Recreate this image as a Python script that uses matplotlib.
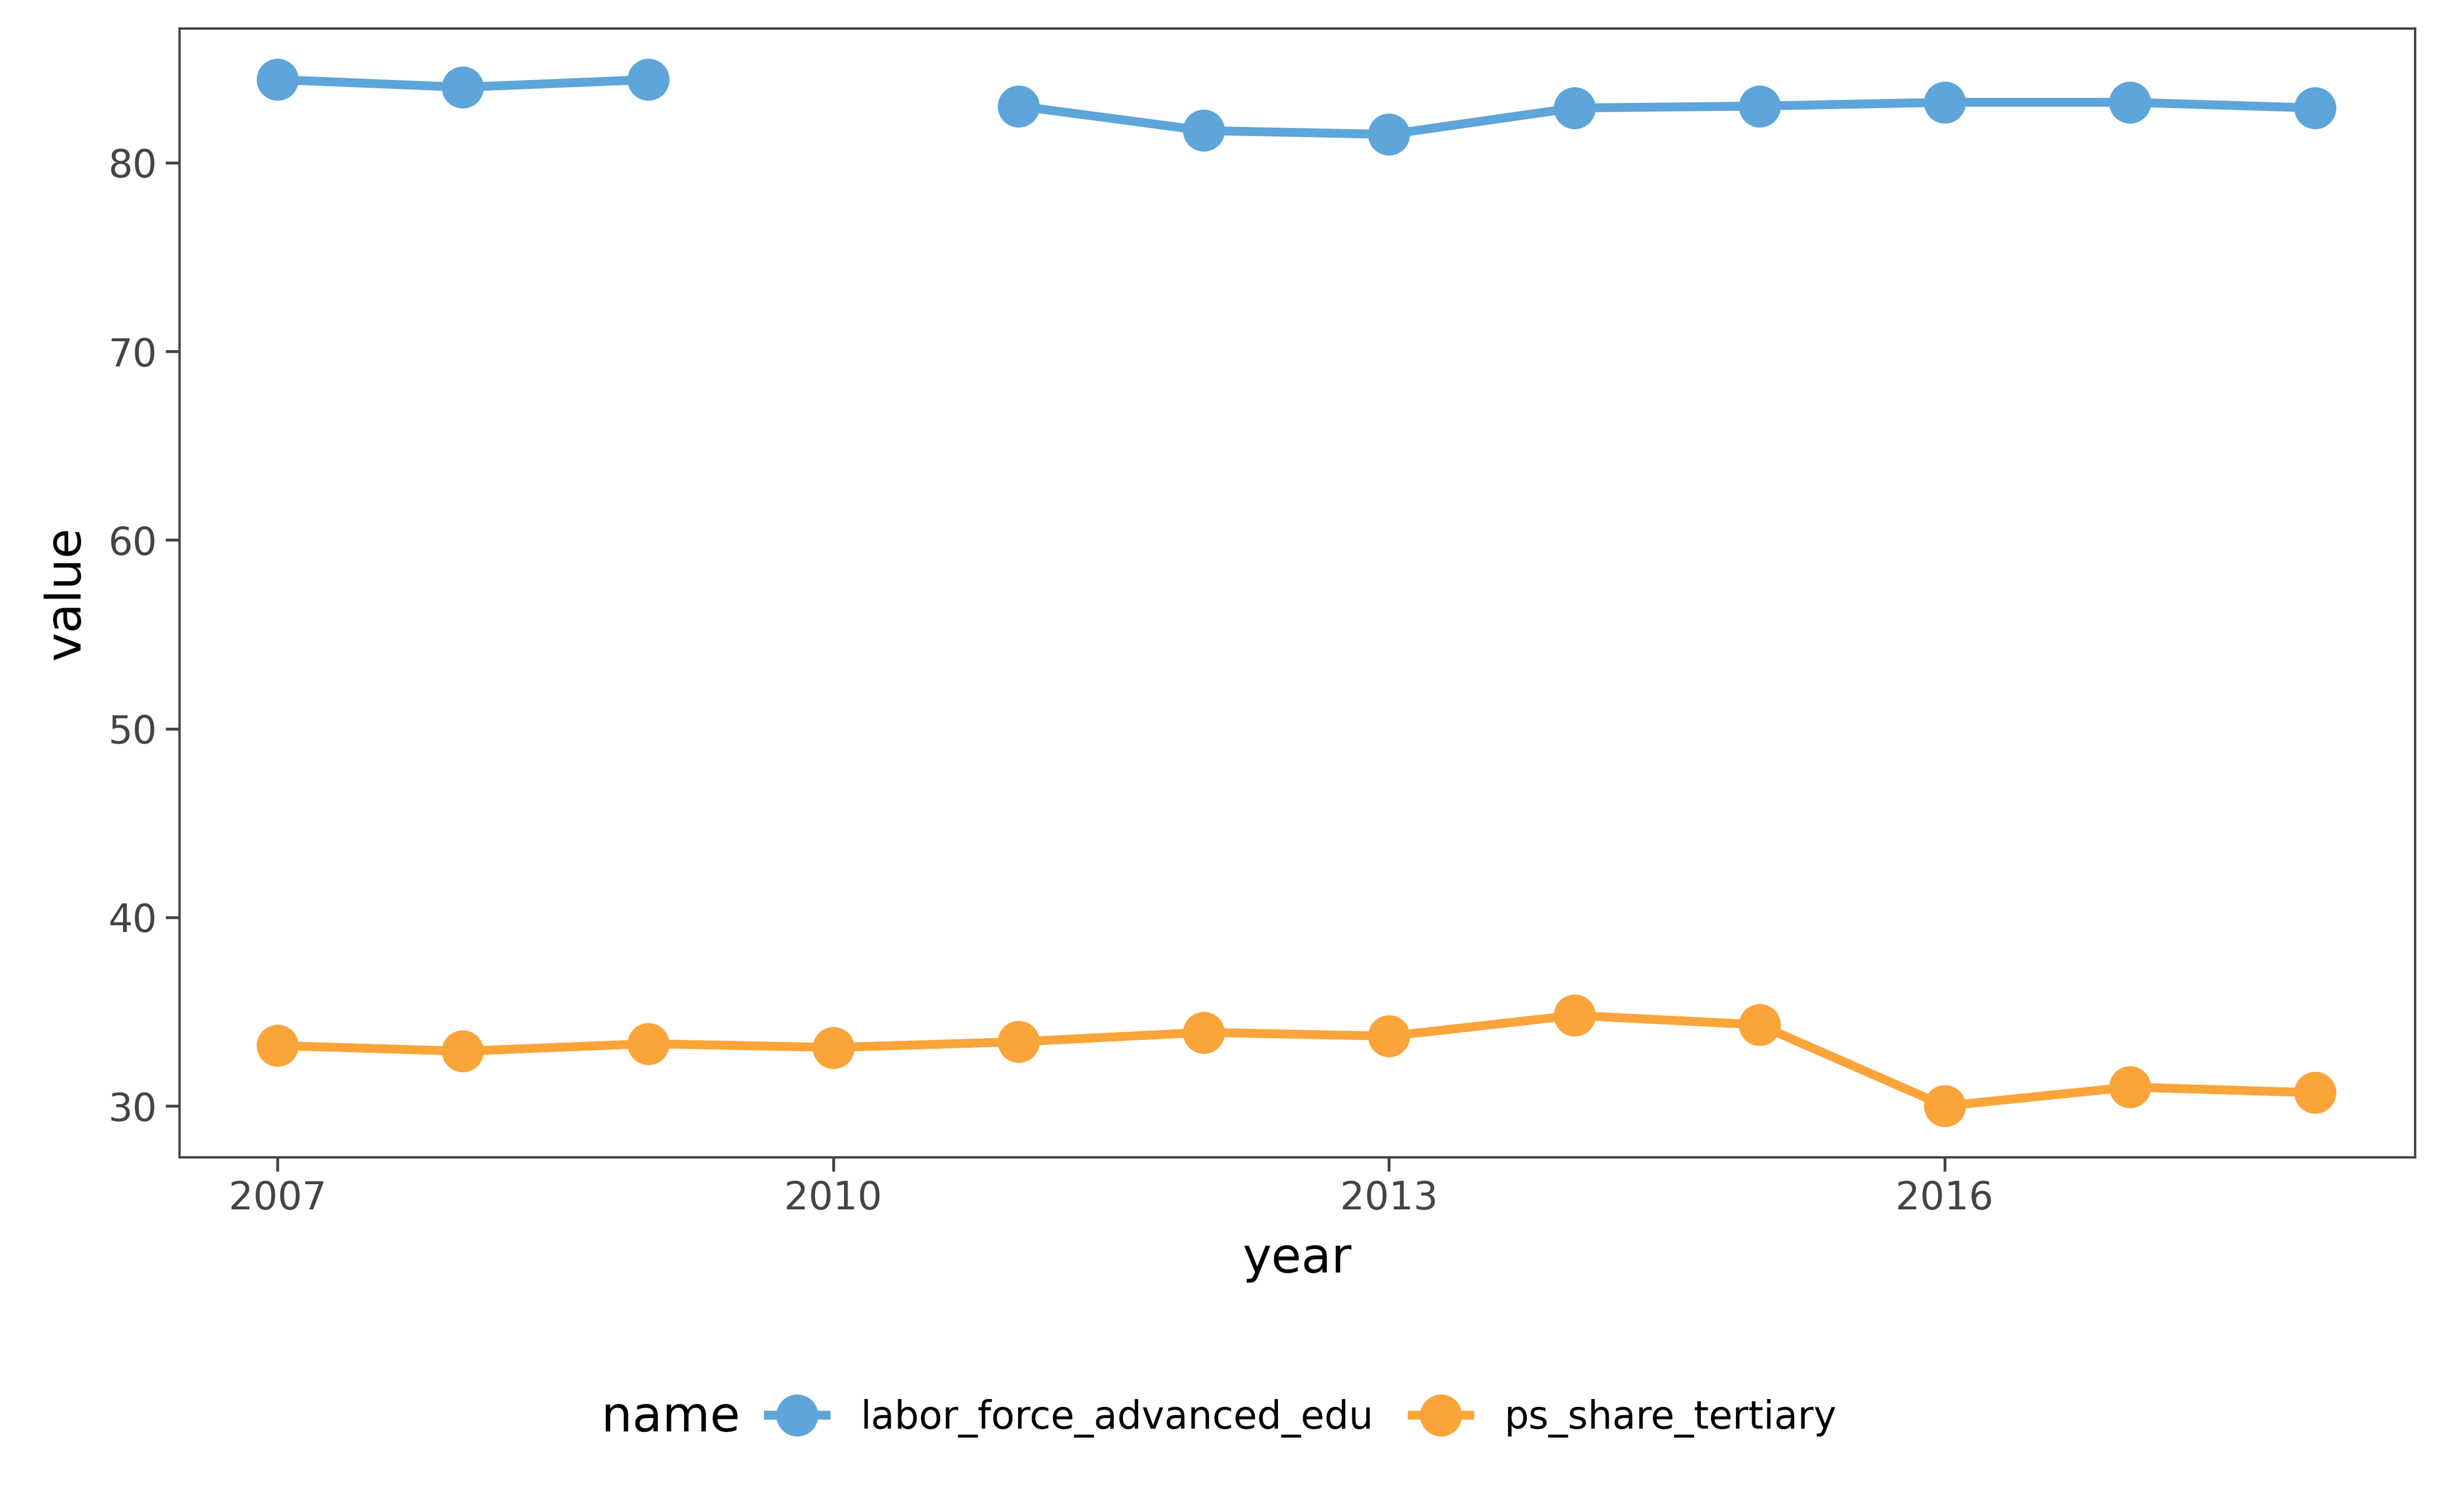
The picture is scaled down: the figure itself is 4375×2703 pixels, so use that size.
import numpy as np
import matplotlib.pyplot as plt
from matplotlib.ticker import FixedLocator

years = [2007, 2008, 2009, 2010, 2011, 2012, 2013, 2014, 2015, 2016, 2017, 2018]
labor_force_advanced_edu = [84.4, 84.0, 84.4, np.nan, 83.0, 81.7, 81.5, 82.9, 83.0, 83.2, 83.2, 82.9]
ps_share_tertiary = [33.2, 32.9, 33.3, 33.1, 33.4, 33.9, 33.7, 34.8, 34.3, 30.0, 31.0, 30.7]
series_names = ['labor_force_advanced_edu', 'ps_share_tertiary']
colors = ['#5DA5DA', '#FAA43A']

fig = plt.figure(figsize=(4375 / 300, 2703 / 300), dpi=300)
ax = fig.add_axes([0.0733, 0.2345, 0.9137, 0.7465])

for vals, name, c in zip([labor_force_advanced_edu, ps_share_tertiary], series_names, colors):
    ax.plot(years, vals, color=c, lw=3.8, marker='o', ms=17, label=name, zorder=3)

ax.set_xlim(2006.47, 2018.54)
ax.set_ylim(27.27, 87.1)
ax.xaxis.set_major_locator(FixedLocator([2007, 2010, 2013, 2016]))
ax.yaxis.set_major_locator(FixedLocator([30, 40, 50, 60, 70, 80]))
ax.tick_params(labelsize=16.5, colors='#444444', length=6, width=1.2, labelcolor='#444444')
for s in ax.spines.values():
    s.set_color('#444444')
    s.set_linewidth(1.0)
ax.set_xlabel('year', fontsize=21, labelpad=8)
ax.set_ylabel('value', fontsize=21, labelpad=8)

fig.text(0.274, 0.062, 'name', fontsize=21, ha='center', va='center')
fig.legend(loc='center left', bbox_to_anchor=(0.314, 0.062), ncol=2, frameon=False,
           fontsize=16.5, handlelength=1.5, columnspacing=1.0, handletextpad=0.9,
           borderaxespad=0, borderpad=0)

fig.savefig('out.png', dpi=300)
